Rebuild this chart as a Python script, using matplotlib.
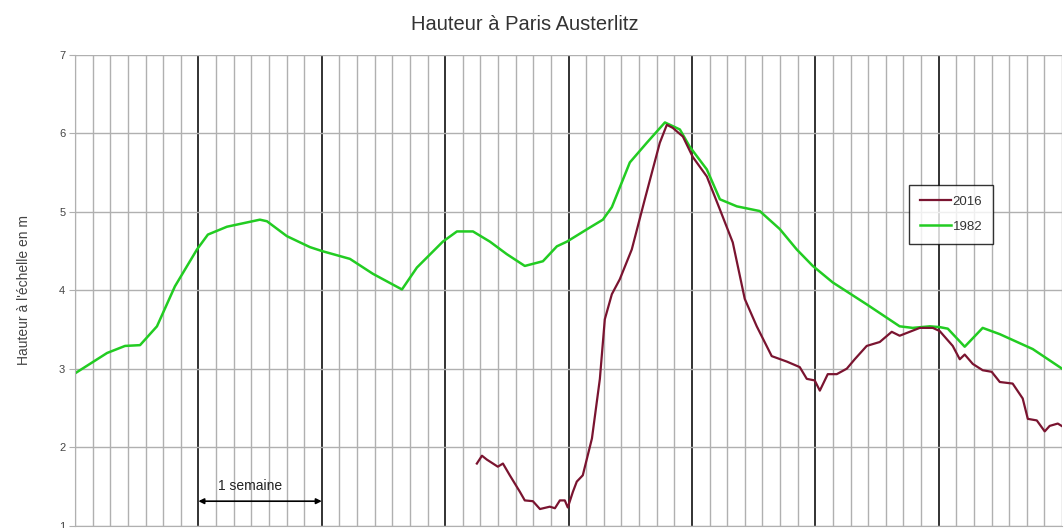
import matplotlib.pyplot as plt

# 1982 flood, day index from start of window
days_1982 = [0, 1.82, 2.84, 3.69, 4.65, 5.67, 6.92, 7.54, 8.62, 10.49, 10.89, 12.02,
             13.33, 14.01, 15.60, 16.90, 18.55, 19.40, 20.87, 21.67, 22.58, 23.54,
             24.50, 25.52, 26.55, 27.34, 27.91, 29.21, 29.95, 30.46, 31.48, 32.44,
             33.47, 34.32, 34.88, 35.85, 36.59, 37.55, 38.85, 39.99, 40.95, 41.86,
             42.99, 44.92, 46.79, 47.53, 48.50, 49.06, 49.52, 50.48, 51.50, 52.47,
             54.34, 55.87, 56]
height_1982 = [2.94, 3.20, 3.29, 3.30, 3.54, 4.05, 4.52, 4.71, 4.81, 4.90, 4.88, 4.69,
               4.55, 4.50, 4.40, 4.21, 4.01, 4.29, 4.62, 4.75, 4.75, 4.62,
               4.46, 4.31, 4.37, 4.56, 4.62, 4.80, 4.90, 5.06, 5.63, 5.88,
               6.14, 6.05, 5.83, 5.54, 5.16, 5.07, 5.01, 4.78, 4.52, 4.31,
               4.10, 3.82, 3.54, 3.52, 3.54, 3.53, 3.51, 3.28, 3.52, 3.44,
               3.25, 3.02, 3.00]

# 2016 flood
days_2016 = [22.80, 23.09, 23.37, 23.99, 24.28, 24.67, 25.24, 25.52, 25.98, 26.38,
             26.94, 27.23, 27.51, 27.79, 27.96, 28.25, 28.47, 28.81, 29.33, 29.78,
             30.06, 30.46, 30.91, 31.59, 32.33, 33.18, 33.58, 33.92, 34.49, 35.05,
             35.85, 36.59, 37.32, 38.00, 38.68, 39.53, 40.39, 41.12, 41.52, 41.97,
             42.26, 42.71, 43.22, 43.79, 44.24, 44.92, 45.66, 46.34, 46.79, 47.36,
             47.93, 48.67, 49.06, 49.80, 50.20, 50.48, 50.94, 51.50, 52.01, 52.47,
             53.20, 53.77, 54.06, 54.57, 55.02, 55.30, 55.76, 55.98]
height_2016 = [1.79, 1.89, 1.84, 1.75, 1.79, 1.64, 1.43, 1.32, 1.31, 1.21,
               1.24, 1.22, 1.32, 1.32, 1.23, 1.43, 1.56, 1.64, 2.11, 2.87,
               3.63, 3.95, 4.14, 4.52, 5.16, 5.88, 6.11, 6.07, 5.96, 5.70,
               5.45, 5.03, 4.61, 3.89, 3.54, 3.16, 3.09, 3.02, 2.87, 2.85,
               2.72, 2.93, 2.93, 3.00, 3.12, 3.29, 3.34, 3.47, 3.42, 3.47,
               3.52, 3.52, 3.48, 3.29, 3.12, 3.18, 3.06, 2.98, 2.96, 2.83,
               2.81, 2.62, 2.36, 2.34, 2.20, 2.27, 2.30, 2.27]

y_ticks = [1, 2, 3, 4, 5, 6, 7]

plt.rcParams['font.family'] = ['Liberation Sans', 'DejaVu Sans']

fig = plt.figure(figsize=(10.64, 5.28), dpi=100)
ax = fig.add_axes([75 / 1064, 1 - 525.5 / 528, 987 / 1064, 470.5 / 528])

ax.set_xlim(0, 56)
ax.set_ylim(1, 7)

# daily grid (thin gray) and weekly grid (black)
ax.set_xticks(range(7, 56, 7))
ax.set_xticks(range(0, 57), minor=True)
ax.grid(which='minor', axis='x', color='#b0b0b0', lw=1.0)
ax.grid(which='major', axis='x', color='#222222', lw=1.3)
ax.set_yticks(y_ticks)
ax.grid(which='major', axis='y', color='#b0b0b0', lw=1.0)
ax.set_axisbelow(True)
ax.tick_params(axis='x', which='both', length=0, labelbottom=False)
ax.tick_params(axis='y', length=4, color='#b0b0b0', labelsize=8,
               labelcolor='#444444', pad=3)
for s in ('top', 'right'):
    ax.spines[s].set_visible(False)
for s in ('left', 'bottom'):
    ax.spines[s].set_color('#b0b0b0')

ax.plot(days_2016, height_2016, color='#7a1430', lw=1.6, label='2016', zorder=3)
ax.plot(days_1982, height_1982, color='#22cc22', lw=1.8, label='1982', zorder=2)

ax.set_ylabel("Hauteur à l'échelle en m", fontsize=10, color='#444444', labelpad=20)

leg = ax.legend(loc='upper left', bbox_to_anchor=(0.845, 0.724), fontsize=9.5,
                frameon=True, fancybox=False, handlelength=2.4, handletextpad=0.1,
                borderpad=0.8, labelspacing=1.0, borderaxespad=0)
leg.get_frame().set_edgecolor('black')
leg.get_frame().set_linewidth(1.0)
for t in leg.get_texts():
    t.set_color('#333333')

ax.annotate('', xy=(7, 1.31), xytext=(14, 1.31),
            arrowprops=dict(arrowstyle='<|-|>', color='black', lw=1.2,
                            mutation_scale=8, shrinkA=0, shrinkB=0))
ax.text(9.93, 1.51, '1 semaine', ha='center', va='center', fontsize=10, color='#222222')

fig.text(525 / 1064, 1 - 25 / 528, 'Hauteur à Paris Austerlitz', ha='center', va='center',
         fontsize=14.5, color='#333333')

fig.savefig('out.png', dpi=100)
